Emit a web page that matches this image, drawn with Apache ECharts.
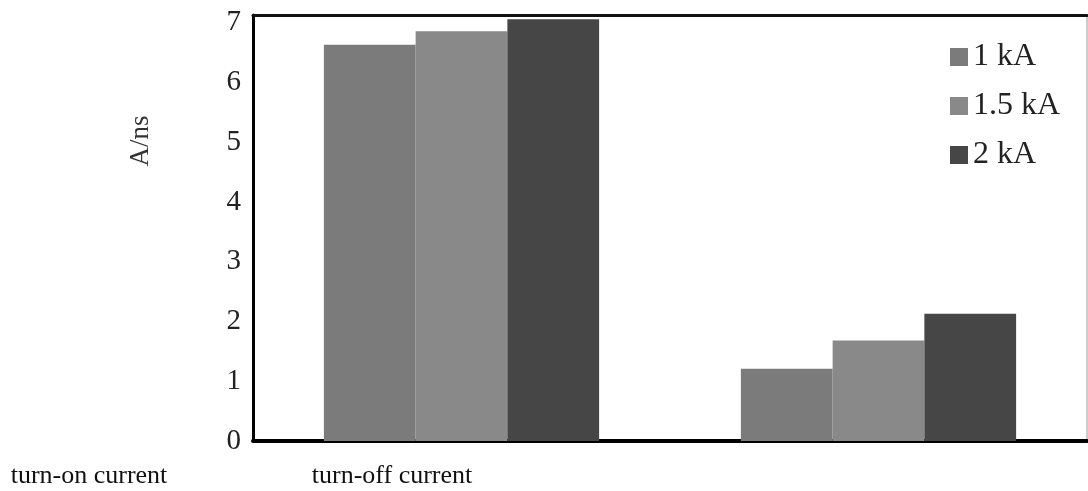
<!DOCTYPE html>
<html><head><meta charset="utf-8">
<script src="https://cdn.jsdelivr.net/npm/echarts@6/dist/echarts.min.js"></script>
<style>html,body{margin:0;padding:0;background:#fff}#c{width:1088px;height:491px}</style>
</head><body><div id="c"></div>
<script>
const categories = ['turn-on current', 'turn-off current'];
const seriesNames = ['1 kA', '1.5 kA', '2 kA'];
const values1kA = [6.63, 1.21];
const values15kA = [6.86, 1.68];
const values2kA = [7.06, 2.13];
const yTicks = [0, 1, 2, 3, 4, 5, 6, 7];
const yTitle = 'A/ns';

const colors = ['#7b7b7b', '#898989', '#464646'];
const serif = 'Liberation Serif';
const chart = echarts.init(document.getElementById('c'));
const data = [values1kA, values15kA, values2kA];
const labelX = [89, 392];
chart.setOption({
  animation: false,
  grid: {left: 253, right: 1, top: 15, bottom: 50, show: true, borderColor: '#999', borderWidth: 1},
  legend: {
    left: 945, top: 36, orient: 'vertical', itemGap: 17, itemWidth: 18, itemHeight: 18,
    icon: 'rect', textStyle: {fontFamily: serif, fontSize: 32, color: '#222', padding: [0, 0, 0, 0]},
    data: seriesNames
  },
  xAxis: [{
    type: 'category', data: categories,
    axisLine: {lineStyle: {color: '#000', width: 4}},
    axisTick: {show: false}, axisLabel: {show: false}
  }, {
    type: 'category', position: 'top', data: categories,
    axisLine: {lineStyle: {color: '#111', width: 3}},
    axisTick: {show: false}, axisLabel: {show: false}
  }],
  yAxis: {
    type: 'value', min: yTicks[0], max: 7.13, interval: 1,
    axisLine: {show: true, lineStyle: {color: '#000', width: 3}},
    axisTick: {show: false}, splitLine: {show: false},
    axisLabel: {fontFamily: serif, fontSize: 29, color: '#222', margin: 12,
      formatter: v => (yTicks.indexOf(v) >= 0 ? String(v) : '')}
  },
  graphic: [
    {type: 'text', x: 141, y: 141, rotation: Math.PI / 2,
     style: {text: yTitle, font: '27px "Liberation Serif"', fill: '#333', align: 'center', verticalAlign: 'middle'}}
  ].concat(categories.map((c, i) => ({
    type: 'text', x: labelX[i], y: 476,
    style: {text: c, font: '26px "Liberation Serif"', fill: '#111', align: 'center', verticalAlign: 'middle'}
  }))),
  series: seriesNames.map((n, i) => ({
    name: n, type: 'bar', data: data[i], barGap: '0%', barCategoryGap: '34%',
    itemStyle: {color: colors[i]}
  }))
});
</script></body></html>
